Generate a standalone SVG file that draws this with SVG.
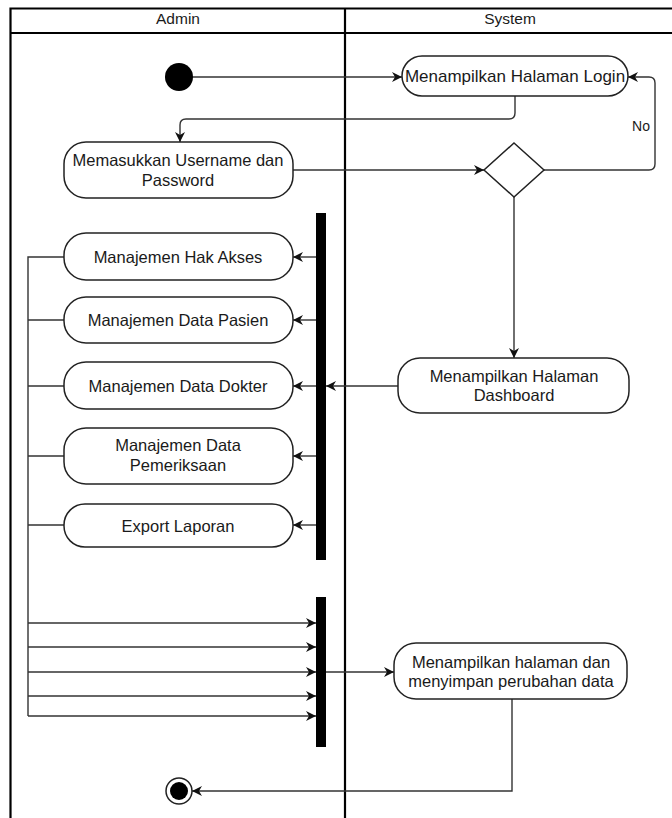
<svg xmlns="http://www.w3.org/2000/svg" width="672" height="818" viewBox="0 0 672 818">
<style>
.lane{stroke:#000;stroke-width:2.2;fill:none}
.node{fill:#fff;stroke:#222;stroke-width:1.5}
.bar{fill:#000}
.t{font-family:"Liberation Sans",Arial,sans-serif;font-size:16.5px;fill:#1a1a1a;text-anchor:middle}
.h{font-family:"Liberation Sans",Arial,sans-serif;font-size:15.5px;fill:#1a1a1a;text-anchor:middle}
.c{fill:none;stroke:#333;stroke-width:1.4}
.a{marker-end:url(#arr)}
</style>
<defs>
<marker id="arr" markerUnits="userSpaceOnUse" markerWidth="11" markerHeight="10" refX="10" refY="5" orient="auto">
<path d="M0,0 L10,5 L0,10 L3,5 z" fill="#111"/>
</marker>
</defs>
<rect width="672" height="818" fill="#fff"/>
<g id="pool">
<path class="lane" d="M9.5,8.5 H672 M9.5,33 H672 M10.5,7.5 V818 M345,7.5 V818"/>
<text class="h" x="178" y="24">Admin</text>
<text class="h" x="510" y="24">System</text>
</g>
<g id="connectors">
<path class="c a" d="M192,77 H402"/>
<path class="c a" d="M515,96 V113 Q515,119 509,119 H186 Q180,119 180,125 V142"/>
<path class="c a" d="M293,170 H484"/>
<path class="c a" d="M544,170 H649 Q655,170 655,164 V83 Q655,77 649,77 H628"/>
<path class="c a" d="M514,197 V358"/>
<path class="c a" d="M398,386 H326"/>
<path class="c a" d="M316,257 H293"/>
<path class="c a" d="M316,320 H293"/>
<path class="c a" d="M316,386 H293"/>
<path class="c a" d="M316,456 H293"/>
<path class="c a" d="M316,525 H293"/>
<path class="c" d="M64,257 H28 V716 M64,320 H28 M64,386 H28 M64,456 H28 M64,525 H28"/>
<path class="c a" d="M28,623 H316"/>
<path class="c a" d="M28,647 H316"/>
<path class="c a" d="M28,672 H316"/>
<path class="c a" d="M28,696 H316"/>
<path class="c a" d="M28,716 H316"/>
<path class="c a" d="M326,672 H394"/>
<path class="c a" d="M512,699 V791 H192"/>
<text x="641" y="131" style="font-family:'Liberation Sans',Arial,sans-serif;font-size:14px;fill:#1a1a1a;text-anchor:middle">No</text>
</g>
<g id="start"><circle cx="179" cy="77" r="14" fill="#000"/></g>
<g id="login"><rect class="node" x="402" y="56" width="226" height="40" rx="20"/><text class="t" x="515" y="82" style="font-size:17px">Menampilkan Halaman Login</text></g>
<g id="input"><rect class="node" x="64" y="142" width="229" height="56" rx="22"/><text class="t" x="178" y="166">Memasukkan Username dan</text><text class="t" x="178" y="186">Password</text></g>
<g id="decision"><polygon class="node" points="514,143 544,170 514,197 484,170"/></g>
<g id="dashboard"><rect class="node" x="398" y="358" width="231" height="55" rx="22"/><text class="t" x="514" y="382">Menampilkan Halaman</text><text class="t" x="514" y="401">Dashboard</text></g>
<g id="fork1"><rect class="bar" x="316" y="213" width="10" height="347"/></g>
<g id="hakakses"><rect class="node" x="64" y="233" width="229" height="47" rx="22"/><text class="t" x="178" y="263">Manajemen Hak Akses</text></g>
<g id="pasien"><rect class="node" x="64" y="297" width="229" height="46" rx="22"/><text class="t" x="178" y="326">Manajemen Data Pasien</text></g>
<g id="dokter"><rect class="node" x="64" y="362" width="229" height="47" rx="22"/><text class="t" x="178" y="392">Manajemen Data Dokter</text></g>
<g id="pemeriksaan"><rect class="node" x="64" y="428" width="229" height="56" rx="22"/><text class="t" x="178" y="451">Manajemen Data</text><text class="t" x="178" y="471">Pemeriksaan</text></g>
<g id="export"><rect class="node" x="64" y="504" width="229" height="43" rx="21"/><text class="t" x="178" y="532">Export Laporan</text></g>
<g id="join"><rect class="bar" x="316" y="597" width="10" height="150"/></g>
<g id="simpan"><rect class="node" x="394" y="643" width="233" height="56" rx="22"/><text class="t" x="511" y="668">Menampilkan halaman dan</text><text class="t" x="511" y="687">menyimpan perubahan data</text></g>
<g id="end"><circle cx="179" cy="791" r="13" fill="#fff" stroke="#222" stroke-width="1.5"/><circle cx="179" cy="791" r="9" fill="#000"/></g>
</svg>
